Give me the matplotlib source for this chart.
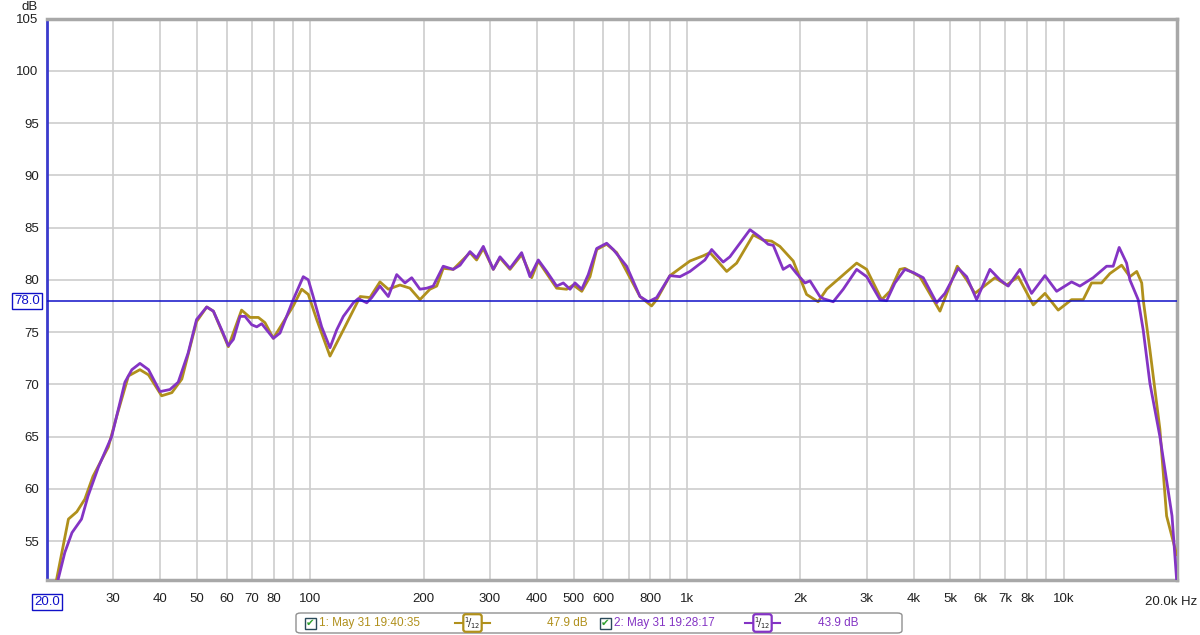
import matplotlib
matplotlib.use("Agg")
import matplotlib.pyplot as plt
from matplotlib.patches import FancyBboxPatch, Rectangle
from matplotlib.lines import Line2D
import matplotlib.transforms as mtransforms

plt.rcParams["font.family"] = ["Liberation Sans", "DejaVu Sans"]

# measurement 1 (gold), 1/12 octave smoothing
freq_1 = [21.2, 22.8, 24.0, 25.2, 26.5, 29.1, 30.6, 32.9, 35.3, 37.2,
          40.3, 42.9, 45.6, 49.9, 53.1, 55.3, 60.6, 65.7, 69.2, 72.8,
          75.8, 79.8, 90.1, 94.9, 98.8, 104.0, 112.8, 122.4, 135.7, 144.0,
          153.1, 161.1, 173.0, 183.9, 195.5, 207.8, 216.6, 225.4, 239.6, 265.5,
          276.4, 288, 306.1, 318.9, 339, 364, 387, 403, 424.3, 450.9,
          479.5, 499.2, 525.7, 552.8, 576, 612.2, 650.9, 750.4, 805.5, 830.9,
          901.4, 1018.5, 1105, 1151, 1199, 1275, 1355, 1500, 1594, 1678,
          1765, 1915, 2078, 2230, 2349, 2548, 2822, 3000, 3288, 3458,
          3676, 3790, 4154, 4696, 5220, 5528, 5813, 6572, 7058, 7576,
          8306, 8922, 9674, 10500, 11272, 11864, 12612, 13270, 14256, 14992,
          15636, 16120, 16266, 16948, 18014, 18768, 19954]
db_1 = [51.3, 57.1, 57.8, 59.0, 61.2, 64.0, 66.9, 70.8, 71.4, 70.9,
        68.9, 69.2, 70.5, 76.0, 77.4, 77.0, 73.6, 77.1, 76.4, 76.4,
        75.9, 74.4, 77.5, 79.1, 78.6, 76.2, 72.7, 75.2, 78.4, 78.3,
        79.8, 79.1, 79.5, 79.2, 78.1, 79.1, 79.4, 81.1, 81.0, 82.6,
        81.9, 83.0, 81.0, 82.1, 81.0, 82.4, 80.2, 81.8, 80.6, 79.2,
        79.1, 79.5, 78.9, 80.3, 82.9, 83.4, 82.6, 78.4, 77.5, 78.1,
        80.4, 81.8, 82.3, 82.6, 81.9, 80.8, 81.6, 84.3, 83.8, 83.7,
        83.2, 81.8, 78.6, 77.9, 79.1, 80.2, 81.6, 81.0, 78.1, 78.9,
        81.0, 81.1, 80.3, 77.0, 81.3, 80.0, 78.7, 80.2, 79.5, 80.3,
        77.6, 78.7, 77.1, 78.1, 78.1, 79.7, 79.7, 80.6, 81.4, 80.3,
        80.8, 79.7, 78.1, 73.3, 65.7, 57.4, 53.7]

# measurement 2 (purple)
freq_2 = [21.4, 22.3, 23.3, 24.7, 25.7, 27.4, 29.7, 32.2, 33.6, 35.3,
          37.2, 39.9, 42.4, 44.6, 47.4, 49.9, 53.1, 55.3, 58.2, 60.6,
          62.5, 65.1, 67.1, 69.9, 72.1, 74.3, 76.6, 79.8, 83.1, 90.1,
          95.8, 98.8, 101.8, 107.2, 112.8, 117.5, 122.4, 130.1, 134.1, 141.2,
          145.6, 153.1, 161.1, 169.6, 178.4, 185.9, 195.5, 203.8, 212, 225.4,
          239.6, 249.8, 265.5, 276.4, 288, 306.1, 318.9, 339, 364, 383,
          403, 424.3, 450.9, 469.6, 489.3, 504.5, 525.7, 547, 576, 612.2,
          637.4, 691.7, 750.4, 789.4, 830.9, 901.4, 958.1, 1018.5, 1116, 1163,
          1211, 1248, 1300, 1470, 1562, 1643, 1695, 1801, 1877, 1955,
          2058, 2122, 2254, 2300, 2446, 2600, 2822, 3000, 3254, 3390,
          3566, 3790, 3988, 4240, 4600, 4840, 5251, 5528, 5876, 6372,
          6776, 7128, 7656, 8222, 8922, 9582, 10500, 11046, 11980, 13006,
          13538, 14044, 14696, 14992, 15776, 16266, 16948, 18014, 19400, 19954]
db_2 = [51.3, 53.9, 55.8, 57.1, 59.3, 62.1, 65.0, 70.2, 71.4, 72.0,
        71.4, 69.3, 69.5, 70.2, 73.0, 76.2, 77.4, 77.0, 75.2, 73.7,
        74.3, 76.5, 76.5, 75.7, 75.5, 75.8, 75.2, 74.4, 74.9, 78.1,
        80.3, 80.0, 78.4, 75.5, 73.5, 75.2, 76.5, 77.8, 78.2, 77.8,
        78.3, 79.4, 78.4, 80.5, 79.7, 80.2, 79.1, 79.2, 79.4, 81.3,
        81.0, 81.4, 82.7, 82.1, 83.2, 81.0, 82.2, 81.1, 82.6, 80.3,
        81.9, 80.8, 79.4, 79.7, 79.1, 79.7, 79.1, 80.5, 83.0, 83.5,
        82.9, 81.3, 78.4, 77.9, 78.3, 80.4, 80.3, 80.8, 81.9, 82.9,
        82.2, 81.7, 82.2, 84.8, 84.1, 83.4, 83.3, 81.0, 81.4, 80.6,
        79.7, 79.9, 78.4, 78.2, 77.9, 79.1, 81.0, 80.3, 78.1, 78.0,
        79.7, 81.0, 80.7, 80.2, 77.8, 78.7, 81.1, 80.3, 78.1, 81.0,
        80.0, 79.4, 81.0, 78.7, 80.4, 78.9, 79.8, 79.4, 80.2, 81.3,
        81.3, 83.1, 81.6, 80.0, 78.1, 75.2, 70.1, 65.0, 57.4, 51.3]

grid_freqs = [30, 40, 50, 60, 70, 80, 90, 100, 200, 300, 400, 500, 600, 700,
              800, 900, 1000, 2000, 3000, 4000, 5000, 6000, 7000, 8000, 9000, 10000]
xtick_freqs = [30, 40, 50, 60, 70, 80, 100, 200, 300, 400, 500, 600, 800,
               1000, 2000, 3000, 4000, 5000, 6000, 7000, 8000, 10000]
xtick_labels = ["30", "40", "50", "60", "70", "80", "100", "200", "300", "400",
                "500", "600", "800", "1k", "2k", "3k", "4k", "5k", "6k", "7k", "8k", "10k"]
ytick_vals = [55, 60, 65, 70, 75, 80, 85, 90, 95, 100, 105]
ref_level = 78.0

legend_names = ["1: May 31 19:40:35", "2: May 31 19:28:17"]
legend_levels = ["47.9 dB", "43.9 dB"]

GOLD = "#B0901C"
PURPLE = "#8434C4"
BLUE = "#1010C8"
GRID = "#CDCDCD"

W, H = 1200, 635
fig = plt.figure(figsize=(12, 6.35), dpi=100)
ax = fig.add_axes([47 / W, 1 - 580 / H, 1130 / W, 561.4 / H])

for f in grid_freqs:
    ax.axvline(f, color=GRID, lw=1.2, zorder=1)
for v in ytick_vals[:-1]:
    ax.axhline(v, color=GRID, lw=1.2, zorder=1)

ax.plot(freq_1, db_1, color=GOLD, lw=2.0, zorder=3, solid_joinstyle="round")
ax.plot(freq_2, db_2, color=PURPLE, lw=2.0, zorder=4, solid_joinstyle="round")
ax.axhline(ref_level, color=BLUE, lw=1.1, zorder=5)

ax.set_xscale("log")
ax.set_xlim(20, 20000)
ax.set_ylim(51.27, 105)
ax.minorticks_off()
ax.set_xticks(xtick_freqs)
ax.set_xticklabels(xtick_labels)
ax.set_yticks(ytick_vals)
ax.set_yticklabels([str(v) for v in ytick_vals])
ax.tick_params(axis="both", length=0, labelsize=9.5, colors="#202020")
ax.tick_params(axis="x", pad=9)
ax.tick_params(axis="y", pad=6)

for side in ["top", "right", "bottom"]:
    ax.spines[side].set_color("#A8A8A8")
    ax.spines[side].set_linewidth(2.5)
ax.spines["left"].set_color("#3A3ACC")
ax.spines["left"].set_linewidth(2)

# axis annotations
ax.text(-0.008, 1.021, "dB", transform=ax.transAxes, ha="right", va="center",
        fontsize=9.5, color="#202020")
yt = mtransforms.blended_transform_factory(ax.transAxes, ax.transData)
ax.text(-0.006, ref_level, "78.0", transform=yt, ha="right", va="center",
        fontsize=9.5, color=BLUE,
        bbox=dict(boxstyle="square,pad=0.15", fc="white", ec=BLUE, lw=1))
xt = mtransforms.blended_transform_factory(ax.transData, ax.transAxes)
ax.text(20, -0.028, "20.0", transform=xt, ha="center", va="top",
        fontsize=9.5, color=BLUE,
        bbox=dict(boxstyle="square,pad=0.15", fc="white", ec=BLUE, lw=1))
ax.text(1.0177, -0.028, "20.0k Hz", transform=ax.transAxes, ha="right", va="top",
        fontsize=9.5, color="#202020")

# legend strip
fig.add_artist(FancyBboxPatch((296 / W, 1 - 633 / H), 606 / W, 20 / H,
                              boxstyle="round,pad=0,rounding_size=0.004",
                              transform=fig.transFigure, fc="white",
                              ec="#909090", lw=1))
ly = 1 - 623 / H
entries = [(305, 455, 547, GOLD), (600, 745, 818, PURPLE)]
for (cx, sx, lx, col), name, lvl in zip(entries, legend_names, legend_levels):
    fig.add_artist(Rectangle((cx / W, ly - 5.5 / H), 11 / W, 11 / H,
                             transform=fig.transFigure, fc="white",
                             ec="#2A4A5A", lw=1))
    fig.text((cx + 5.5) / W, ly, "\u2714", ha="center", va="center",
             fontsize=7.5, color="#30A030", family="DejaVu Sans")
    fig.text((cx + 14) / W, ly, name, ha="left", va="center", fontsize=8.5,
             color=col)
    fig.add_artist(Line2D([sx / W, (sx + 35) / W], [ly, ly],
                          transform=fig.transFigure, color=col, lw=1.5))
    fig.text((sx + 17.5) / W, ly, r"$^1\!/_{12}$", ha="center", va="center",
             fontsize=7, color="#202020",
             bbox=dict(boxstyle="round,pad=0.1,rounding_size=0.25",
                       fc="white", ec=col, lw=1.6))
    fig.text(lx / W, ly, lvl, ha="left", va="center", fontsize=8.5, color=col)

fig.savefig("out.png", dpi=100, facecolor="white")
